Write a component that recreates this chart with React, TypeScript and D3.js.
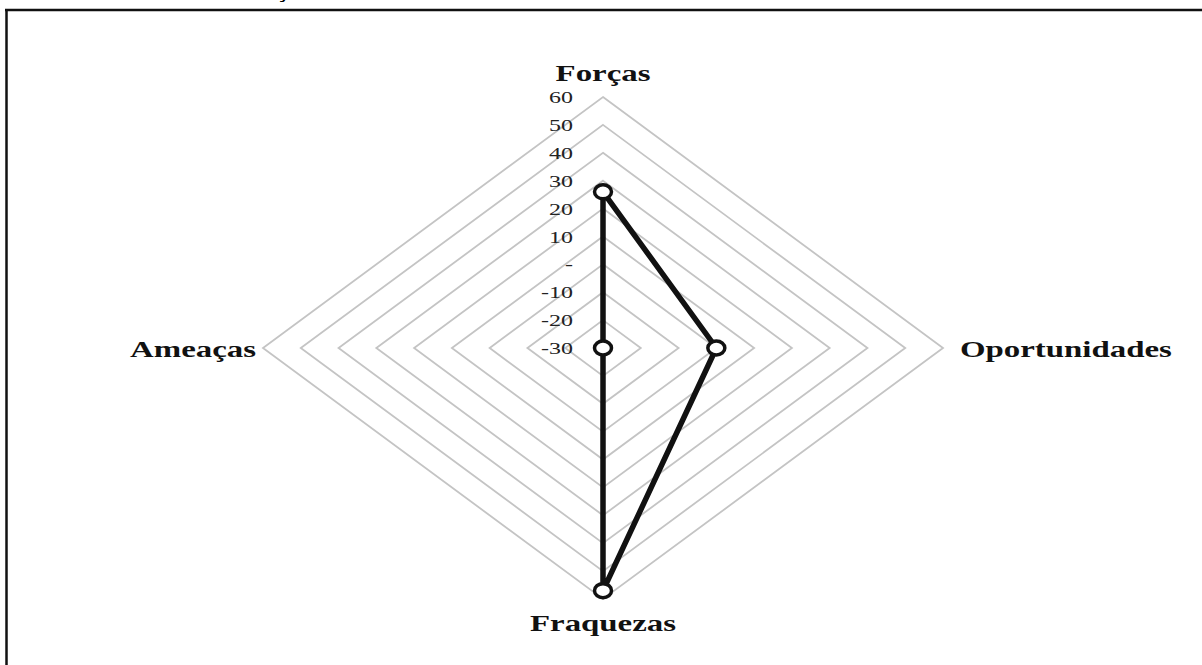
import React from "react";
import * as d3 from "d3";

const categories = ["Forças", "Oportunidades", "Fraquezas", "Ameaças"];
const values = [26, 0, 57, -30];
const tickValues = [-30, -20, -10, 0, 10, 20, 30, 40, 50, 60];
const tickLabels = ["-30", "-20", "-10", "-", "10", "20", "30", "40", "50", "60"];

const W = 1202;
const H = 665;
const cx = 603;
const cy = 348;
const rx = 340;
const ry = 251;
const SX = 1.37;
const serif = "'Liberation Serif', 'Times New Roman', serif";

export default function App() {
  const r = d3.scaleLinear().domain([-30, 60]).range([0, 1]);
  const angles = categories.map((_, i) => (i * Math.PI * 2) / categories.length);
  const pt = (v: number, i: number): [number, number] => {
    const a = angles[i];
    return [cx + Math.sin(a) * rx * r(v), cy - Math.cos(a) * ry * r(v)];
  };
  const closed = d3.line().curve(d3.curveLinearClosed);
  const rings = tickValues.filter((t) => t > -30);
  const dataPts = values.map((v, i) => pt(v, i));

  const labelPos = [
    { x: cx, y: 81, anchor: "middle" },
    { x: 960, y: 357, anchor: "start" },
    { x: cx, y: 631, anchor: "middle" },
    { x: 256, y: 357, anchor: "end" },
  ];

  return (
    <svg
      width={W}
      height={H}
      style={{ position: "absolute", left: 0, top: 0, background: "#fff" }}
    >
      <text
        transform={`translate(282,-2) scale(${SX},1)`}
        fontFamily={serif}
        fontSize={18}
        fontWeight="bold"
        textAnchor="middle"
      >
        Ç
      </text>
      <line x1={5} y1={10} x2={W} y2={10} stroke="#111" strokeWidth={2.5} />
      <line x1={6.5} y1={9} x2={6.5} y2={H} stroke="#111" strokeWidth={2.5} />
      {rings.map((t) => (
        <path
          key={t}
          d={closed(categories.map((_, i) => pt(t, i))) || ""}
          fill="none"
          stroke="#c4c4c4"
          strokeWidth={1.8}
        />
      ))}
      {tickValues.map((t, i) => (
        <text
          key={t}
          transform={`translate(573,${pt(t, 0)[1]}) scale(${SX},1)`}
          dy="0.35em"
          textAnchor="end"
          fontFamily={serif}
          fontSize={17.5}
          fill="#222"
        >
          {tickLabels[i]}
        </text>
      ))}
      <path
        d={closed(dataPts) || ""}
        fill="none"
        stroke="#111"
        strokeWidth={5.5}
        strokeLinejoin="round"
      />
      {dataPts.map((p, i) => (
        <ellipse
          key={i}
          cx={p[0]}
          cy={p[1]}
          rx={8.5}
          ry={7}
          fill="#fff"
          stroke="#111"
          strokeWidth={3.5}
        />
      ))}
      {categories.map((c, i) => (
        <text
          key={c}
          transform={`translate(${labelPos[i].x},${labelPos[i].y}) scale(${SX},1)`}
          textAnchor={labelPos[i].anchor as any}
          fontFamily={serif}
          fontSize={24}
          fontWeight="bold"
          fill="#111"
        >
          {c}
        </text>
      ))}
    </svg>
  );
}
